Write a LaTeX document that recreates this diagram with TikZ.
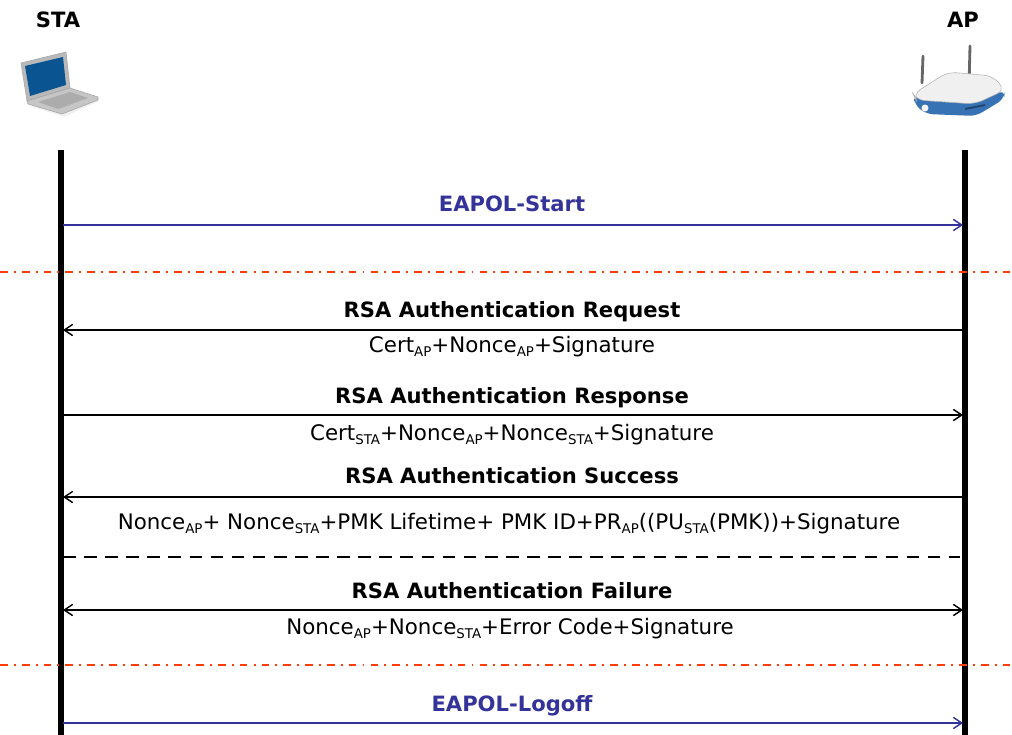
\documentclass[tikz,border=0pt]{standalone}
\usepackage{fontspec}
\setmainfont{DejaVu Sans}
\usetikzlibrary{
    positioning,
    arrows.meta
}
\usepackage{xcolor}
\definecolor{eapolblue}{RGB}{51,51,153}
\definecolor{phasered}{RGB}{255,60,10}
\definecolor{screenblue}{RGB}{10,85,145}
\definecolor{routerblue}{RGB}{55,115,180}
\newcommand{\lowidx}[1]{\raisebox{-0.35ex}{\fontsize{9.5}{10}\selectfont #1}}

\begin{document}
\begin{tikzpicture}[
    x=0.025cm, y=-0.025cm,
    >={Straight Barb[length=6pt,width=8pt]},
    entity/.style={anchor=base, inner sep=0pt, font=\fontsize{15}{18}\selectfont\bfseries},
    msg/.style={anchor=base, inner sep=0pt, font=\fontsize{15}{18}\selectfont\bfseries},
    eapol/.style={msg, text=eapolblue},
    payload/.style={anchor=base, inner sep=0pt, font=\fontsize{15.2}{18}\selectfont},
    lifeline/.style={line width=3.6pt},
    msgarrow/.style={line width=1pt, ->},
    eapolarrow/.style={msgarrow, draw=eapolblue},
    phase/.style={draw=phasered, line width=1.4pt, dash pattern=on 5.5pt off 4.3pt on 1.4pt off 4.3pt},
    alt/.style={line width=1.4pt, dash pattern=on 9pt off 6pt}
]
\useasboundingbox (0,0) rectangle (1012,735);

% Entities
\node[entity] (sta) at (58,28) {STA};
\node[entity] (ap) at (963,28) {AP};

% Laptop
\fill[gray!12] (30,106) -- (70,93) -- (99,101) -- (64,117) -- cycle;
\draw[gray!70, fill=gray!55, line join=round] (21,63) -- (66,52) -- (70,88) -- (27,101) -- cycle;
\fill[screenblue] (25,66) -- (63,57) -- (66,85) -- (30,96) -- cycle;
\draw[gray!70, fill=gray!45, line join=round] (27,101) -- (70,88) -- (98,97) -- (98,100) -- (62,114) -- (28,104) -- cycle;
\fill[gray!65] (38,102) -- (70,92) -- (88,98) -- (58,109) -- cycle;

% Router
\draw[gray!80!black, line width=2pt, line cap=round] (922,83) -- (923,56);
\draw[gray!80!black, line width=2pt, line cap=round] (969,86) -- (970,46);
\fill[routerblue, rounded corners=5pt] (914,95) -- (975,103) -- (1005,90) -- (1004,99) -- (976,116) -- (926,114) -- (914,104) -- cycle;
\draw[gray!60, fill=gray!12, rounded corners=6pt] (913,94) -- (948,72) -- (993,76) -- (1005,90) -- (975,104) -- (916,100) -- cycle;
\fill[gray!10] (925,108) circle (3.5);
\fill[routerblue!60!black] (965,108) -- (985,104) -- (985,106) -- (965,110) -- cycle;

% Lifelines
\coordinate (staTop) at (61,150);
\coordinate (staEnd) at (61,735);
\coordinate (apTop) at (965,150);
\coordinate (apEnd) at (965,735);
\draw[lifeline] (staTop) -- (staEnd);
\draw[lifeline] (apTop) -- (apEnd);

% Message end points
\coordinate (s1) at (63,225);  \coordinate (a1) at (963,225);
\coordinate (s2) at (63,330);  \coordinate (a2) at (963,330);
\coordinate (s3) at (63,415);  \coordinate (a3) at (963,415);
\coordinate (s4) at (63,497);  \coordinate (a4) at (963,497);
\coordinate (s5) at (63,557);  \coordinate (a5) at (960,557);
\coordinate (s6) at (63,610);  \coordinate (a6) at (963,610);
\coordinate (s7) at (63,723);  \coordinate (a7) at (963,723);

% Phase separators
\coordinate (p1l) at (0,272);  \coordinate (p1r) at (1012,272);
\coordinate (p2l) at (0,665);  \coordinate (p2r) at (1012,665);
\draw[phase] (p1l) -- (p1r);
\draw[phase] (p2l) -- (p2r);

% EAPOL-Start
\node[eapol] (start) at (512,211) {EAPOL-Start};
\draw[eapolarrow] (s1) -- (a1);

% RSA authentication request
\node[msg] (req) at (512,317) {RSA Authentication Request};
\draw[msgarrow] (a2) -- (s2);
\node[payload] (reqdata) at (512,352) {Cert\lowidx{AP}+Nonce\lowidx{AP}+Signature};

% RSA authentication response
\node[msg] (resp) at (512,403) {RSA Authentication Response};
\draw[msgarrow] (s3) -- (a3);
\node[payload] (respdata) at (512,440) {Cert\lowidx{STA}+Nonce\lowidx{AP}+Nonce\lowidx{STA}+Signature};

% RSA authentication success
\node[msg] (succ) at (512,483) {RSA Authentication Success};
\draw[msgarrow] (a4) -- (s4);
\node[payload] (succdata) at (509,529) {Nonce\lowidx{AP}+ Nonce\lowidx{STA}+PMK Lifetime+ PMK ID+PR\lowidx{AP}((PU\lowidx{STA}(PMK))+Signature};

\draw[alt] (s5) -- (a5);

% RSA authentication failure
\node[msg] (fail) at (512,598) {RSA Authentication Failure};
\draw[msgarrow, <->] (s6) -- (a6);
\node[payload] (faildata) at (510,634) {Nonce\lowidx{AP}+Nonce\lowidx{STA}+Error Code+Signature};

% EAPOL-Logoff
\node[eapol] (logoff) at (512,711) {EAPOL-Logoff};
\draw[eapolarrow] (s7) -- (a7);

\end{tikzpicture}
\end{document}
